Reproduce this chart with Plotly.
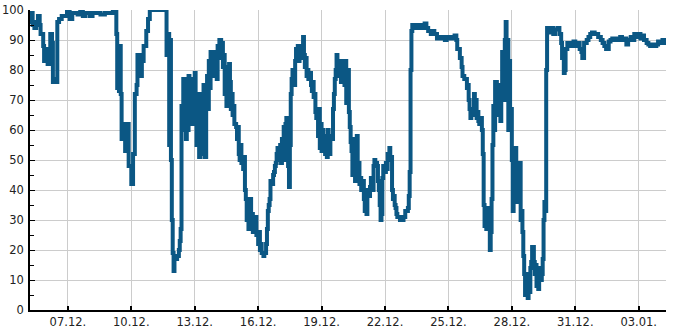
import pandas as pd
import plotly.graph_objects as go

start = "2023-12-05 05:00"
end = "2024-01-04 07:00"

# hours since start of recording
hours = [0, 1, 2, 3, 5, 7, 9, 11, 12, 15, 16, 18, 20, 23, 25, 26, 28, 29, 31, 33,
         36, 40, 42, 45, 48, 51, 54, 57, 60, 63, 68, 71, 76, 80, 85, 90, 94, 96, 98, 99,
         100, 101, 102, 103, 104, 105, 108, 110, 112, 115, 117, 119, 121, 122, 125, 127, 129, 132, 134, 136,
         145, 154, 155, 156, 158, 159, 160, 161, 162, 163, 164, 167, 169, 170, 171, 172, 174, 175, 176, 177,
         178, 179, 180, 181, 183, 184, 185, 186, 187, 188, 189, 191, 192, 193, 194, 195, 196, 197, 198, 200,
         201, 202, 203, 204, 205, 206, 208, 209, 210, 211, 212, 213, 214, 215, 217, 218, 219, 220, 221, 222,
         223, 225, 226, 227, 228, 229, 230, 231, 232, 234, 235, 236, 237, 238, 239, 240, 242, 243, 244, 245,
         246, 247, 248, 249, 251, 252, 253, 254, 255, 256, 257, 259, 260, 261, 262, 263, 265, 266, 268, 269,
         270, 271, 272, 273, 274, 276, 277, 278, 279, 280, 281, 282, 284, 285, 286, 287, 288, 289, 290, 291,
         293, 294, 295, 296, 297, 298, 299, 301, 302, 303, 304, 305, 306, 307, 308, 310, 311, 312, 313, 314,
         315, 316, 318, 319, 320, 321, 322, 323, 324, 325, 327, 328, 329, 330, 331, 332, 333, 335, 336, 337,
         338, 339, 340, 341, 342, 344, 345, 346, 347, 348, 349, 350, 352, 353, 354, 355, 356, 357, 358, 359,
         361, 362, 363, 364, 365, 366, 367, 369, 370, 371, 372, 373, 374, 375, 376, 378, 379, 380, 381, 382,
         383, 384, 386, 387, 388, 389, 390, 391, 392, 394, 395, 396, 397, 398, 399, 400, 401, 403, 404, 405,
         406, 407, 408, 409, 411, 412, 413, 414, 415, 416, 417, 420, 422, 424, 426, 429, 430, 431, 432, 433,
         434, 437, 439, 441, 443, 446, 448, 450, 452, 455, 457, 459, 462, 464, 466, 468, 471, 473, 475, 477,
         480, 482, 484, 485, 488, 490, 491, 493, 496, 497, 498, 499, 500, 501, 502, 504, 505, 506, 507, 508,
         509, 510, 511, 513, 514, 515, 516, 517, 518, 519, 521, 522, 523, 524, 525, 526, 527, 528, 530, 531,
         532, 533, 534, 535, 536, 537, 539, 540, 541, 542, 543, 544, 545, 547, 548, 549, 550, 551, 552, 553,
         555, 556, 557, 558, 559, 560, 561, 562, 564, 565, 566, 567, 568, 569, 570, 572, 573, 574, 575, 576,
         577, 578, 579, 581, 582, 583, 584, 585, 586, 587, 590, 592, 594, 596, 599, 601, 603, 604, 606, 607,
         608, 610, 612, 615, 617, 619, 621, 624, 626, 627, 629, 632, 634, 636, 638, 641, 643, 645, 648, 650,
         652, 654, 657, 659, 661, 663, 666, 668, 670, 672, 675, 677, 679, 682, 684, 686, 688, 691, 693, 695,
         697, 700, 702, 704, 706, 709, 711, 713, 716, 718, 720, 722]

values = [98, 96, 99, 95, 94, 96, 98, 95, 92, 88, 83, 87, 82, 92, 89, 76, 77, 76, 96, 97,
          98, 98, 99.5, 97, 99, 99, 98.5, 100, 98, 99, 98, 99, 99, 98.5, 99, 99, 100, 99.5, 92, 74,
          80, 73, 88, 72, 57, 62, 53, 62, 48, 42, 52, 72, 75, 85, 78, 83, 88, 93, 97, 100,
          100, 100, 85, 92, 55, 90, 50, 30, 19, 13, 17, 18, 20, 23, 27, 68, 77, 60, 77, 57,
          74, 60, 78, 64, 77, 62, 72, 68, 79, 63, 55, 72, 51, 67, 52, 72, 60, 75, 51, 70,
          78, 67, 83, 74, 86, 80, 85, 78, 86, 82, 77, 88, 84, 90, 86, 89, 81, 85, 72, 81,
          68, 72, 82, 76, 67, 72, 65, 68, 62, 61, 57, 61, 52, 50, 55, 49, 47, 51, 40, 37,
          30, 34, 27, 37, 28, 32, 26, 29, 27, 31, 25, 22, 26, 20, 22, 19, 18, 19, 22, 27,
          33, 35, 37, 43, 42, 45, 46, 48, 49, 52, 54, 50, 55, 49, 57, 52, 61, 50, 62, 64,
          48, 41, 55, 72, 77, 80, 75, 83, 87, 84, 88, 83, 86, 84, 88, 91, 85, 81, 84, 78,
          80, 77, 79, 75, 73, 76, 71, 72, 66, 64, 58, 67, 54, 62, 53, 60, 55, 52, 58, 51,
          60, 55, 52, 58, 57, 67, 72, 77, 80, 85, 83, 78, 83, 76, 83, 77, 82, 75, 83, 69,
          80, 66, 61, 56, 53, 45, 57, 43, 55, 58, 47, 49, 42, 44, 40, 43, 37, 33, 36, 32,
          40, 38, 41, 44, 43, 40, 48, 50, 49, 48, 43, 40, 35, 30, 32, 44, 48, 46, 49, 47,
          52, 50, 54, 51, 40, 37, 38, 35, 34, 32, 31, 30, 30, 31, 33, 34, 38, 46, 80, 93,
          95, 94, 95, 94, 95, 94, 95.5, 94, 93, 92, 93, 92, 90.5, 91, 90.5, 91, 90, 91, 90.5, 91,
          90.5, 91.5, 90, 87, 84, 81, 78, 77, 74, 75, 70, 67, 64, 66, 67, 72, 65, 70, 64, 66,
          63, 62, 64, 60, 52, 35, 28, 34, 27, 32, 34, 20, 26, 37, 55, 68, 60, 76, 70, 75,
          65, 72, 63, 74, 86, 70, 90, 96, 75, 90, 60, 83, 67, 50, 33, 53, 36, 54, 44, 47,
          36, 49, 30, 33, 26, 18, 12, 5, 8, 4, 12, 6, 14, 16, 21, 16, 12, 15, 8, 13,
          7, 14, 10, 12, 17, 30, 36, 33, 80, 94, 92.5, 94, 92, 93.5, 94, 92, 89, 84, 79, 80,
          87, 89, 88, 89, 89.5, 88, 89, 87, 86, 84, 89, 90, 91, 92, 92.5, 92, 92, 91, 90, 89,
          88, 87, 89.5, 90, 90.5, 90, 90.5, 90, 91, 90, 90.5, 88.5, 90, 91, 90, 92, 91, 92, 90.5, 91.5,
          90, 89, 88.5, 88, 88.5, 88, 88.5, 89.5, 89, 90, 89, 89]

times = pd.Timestamp(start) + pd.to_timedelta(hours, unit="h")

fig = go.Figure()
fig.add_trace(go.Scatter(
    x=times, y=values, mode="lines",
    line=dict(color="#0b5784", width=4, shape="hv"),
    hoverinfo="skip", showlegend=False, cliponaxis=False,
))

fig.update_layout(
    width=685, height=330,
    margin=dict(l=30, r=19, t=10, b=20, autoexpand=False),
    paper_bgcolor="white", plot_bgcolor="white",
    font=dict(family="DejaVu Sans", size=11.5, color="#222222"),
)
fig.update_xaxes(
    type="date", range=[start, end], automargin=False,
    tick0="2023-12-07", dtick=3 * 24 * 3600 * 1000, tickformat="%d.%m.",
    showgrid=True, gridcolor="#cccccc", gridwidth=1,
    showline=True, linecolor="black", linewidth=1.5,
    ticks="inside", ticklen=4, tickcolor="black", tickwidth=1.5,
    zeroline=False, fixedrange=True,
)
fig.update_yaxes(
    range=[0, 100], dtick=10, tick0=0, automargin=False,
    showgrid=True, gridcolor="#cccccc", gridwidth=1,
    showline=True, linecolor="black", linewidth=1.5,
    ticks="inside", ticklen=5, tickcolor="black", tickwidth=1,
    ticklabelstandoff=2,
    minor=dict(dtick=5, ticks="inside", ticklen=4, tickcolor="black", showgrid=False),
    zeroline=False, fixedrange=True,
)

fig.write_html("out.html", config={"displayModeBar": False})
